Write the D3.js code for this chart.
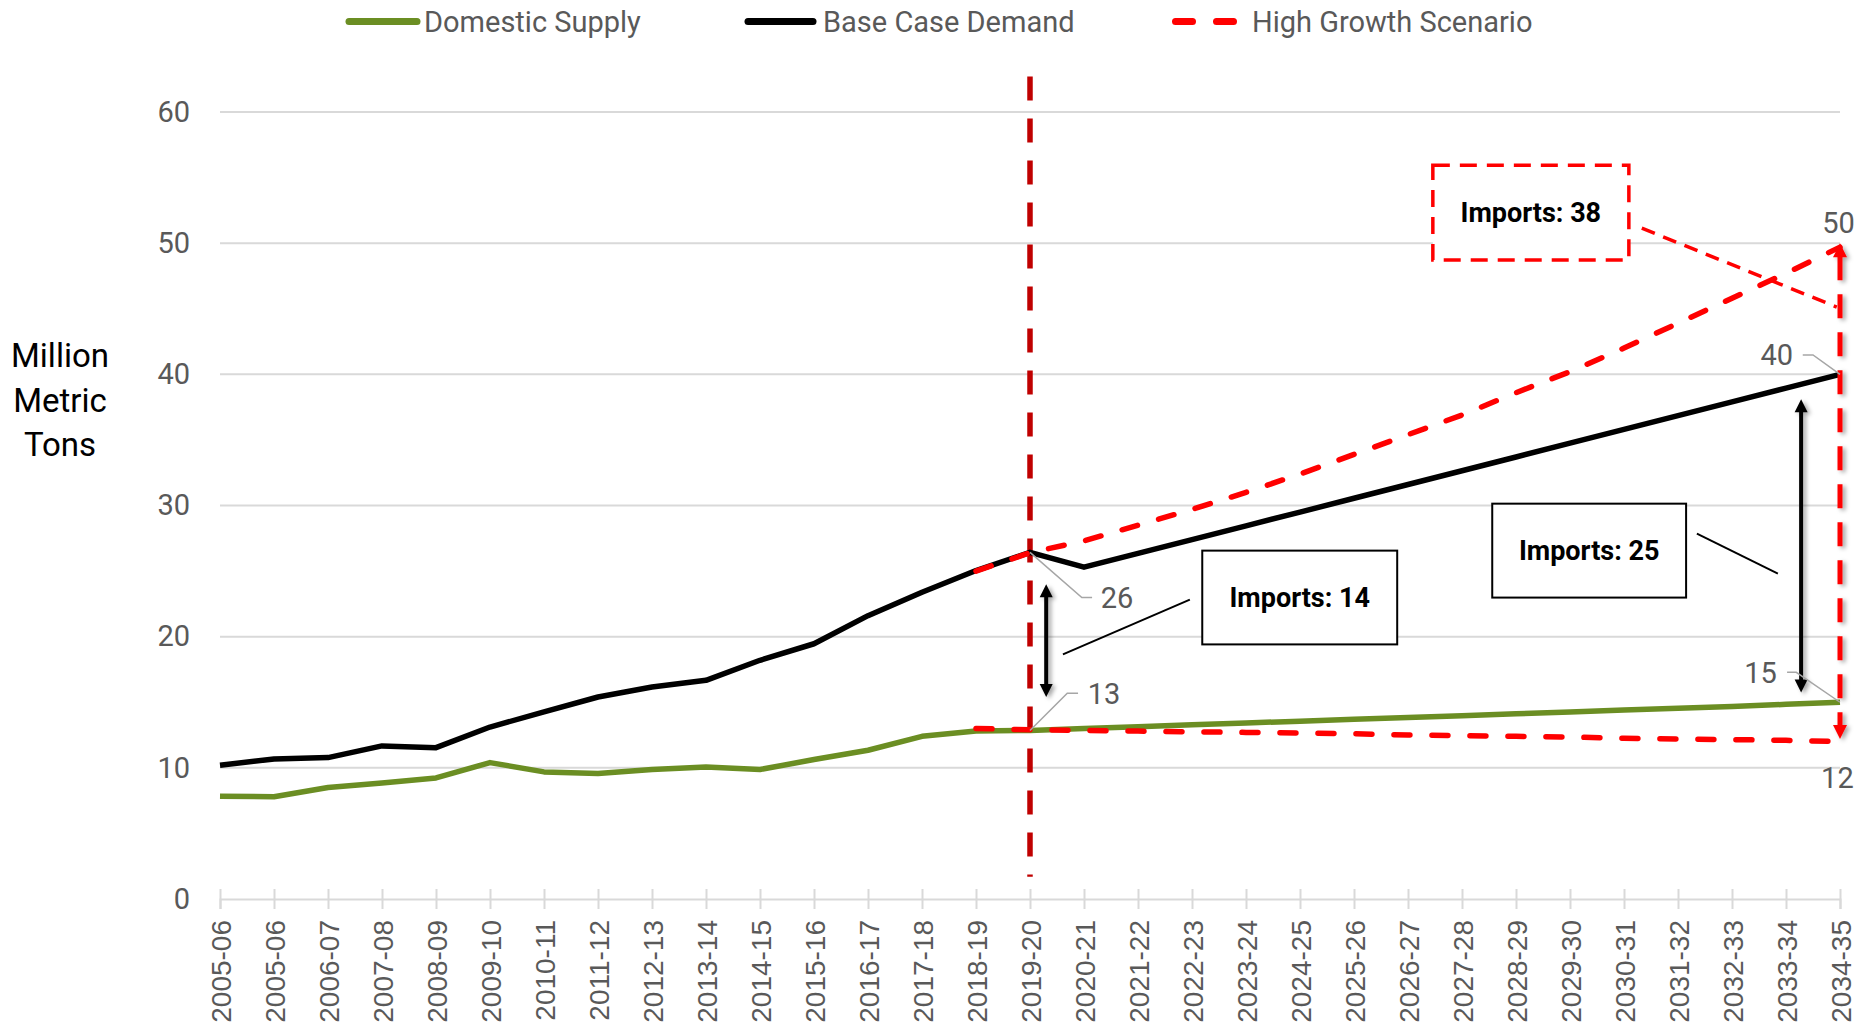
<!DOCTYPE html>
<html>
<head>
<meta charset="utf-8">
<script src="https://cdn.jsdelivr.net/npm/d3@7/dist/d3.min.js"></script>
<style>
  body { margin: 0; background: #fff; }
  text { font-family: Roboto, "Liberation Sans", sans-serif; }
</style>
</head>
<body>
<svg id="chart" width="1864" height="1032"></svg>
<script>
const categories = ['2005-06', '2005-06', '2006-07', '2007-08', '2008-09', '2009-10', '2010-11',
    '2011-12', '2012-13', '2013-14', '2014-15', '2015-16', '2016-17', '2017-18', '2018-19',
    '2019-20', '2020-21', '2021-22', '2022-23', '2023-24', '2024-25', '2025-26', '2026-27',
    '2027-28', '2028-29', '2029-30', '2030-31', '2031-32', '2032-33', '2033-34', '2034-35']

const domesticSupply = [7.84, 7.79, 8.5, 8.85, 9.23, 10.4, 9.69, 9.56, 9.87, 10.07, 9.87, 10.63,
    11.34, 12.4, 12.8, 12.85, 13.0, 13.14, 13.28, 13.42, 13.56, 13.7, 13.84, 13.98, 14.12, 14.26,
    14.4, 14.54, 14.68, 14.84, 15.0]

const baseCaseDemand = [10.2, 10.68, 10.78, 11.67, 11.54, 13.11, 14.26, 15.4, 16.16, 16.67, 18.2,
    19.46, 21.6, 23.39, 25.04, 26.43, 25.3, 26.35, 27.4, 28.45, 29.5, 30.55, 31.6, 32.65, 33.7,
    34.75, 35.8, 36.85, 37.9, 38.95, 40.0]

// high growth scenario starts in 2018-19 (index 14)
const highGrowthDemand = [null, null, null, null, null, null, null, null, null, null, null, null,
    null, null, 25.0, 26.4, 27.3, 28.5, 29.7, 31.0, 32.4, 33.9, 35.4, 36.9, 38.6, 40.2, 42.0,
    43.9, 45.8, 47.7, 49.7]
const highGrowthSupply = [null, null, null, null, null, null, null, null, null, null, null, null,
    null, null, 13.0, 12.9, 12.85, 12.8, 12.75, 12.7, 12.65, 12.6, 12.5, 12.45, 12.4, 12.35,
    12.25, 12.2, 12.15, 12.1, 12.0]

const yTicks = [0, 10, 20, 30, 40, 50, 60]
const seriesNames = ['Domestic Supply', 'Base Case Demand', 'High Growth Scenario']
const yTitle = ['Million', 'Metric', 'Tons']

// annotations, in (category index, value) units
const importLabels = ['Imports: 14', 'Imports: 25', 'Imports: 38']
const importBoxes = [[18.19, 26.56, 21.8, 19.41], [23.56, 30.14, 27.15, 22.98], [22.46, 55.94, 26.09, 48.71]]
const importLinks = [[15.61, 18.65, 17.96, 22.83], [27.35, 27.85, 28.85, 24.81], [26.33, 51.14, 29.94, 45.13]]
const importArrows = [[15.3, 24.0, 15.4], [29.28, 38.1, 15.75], [30, 50.0, 12.2]]

const pointLabels = ['26', '13', '15', '40', '50', '12']
const pointLabelPos = [[16.31, 22.98], [16.07, 15.68], [28.83, 17.28], [29.13, 41.48], [29.67, 51.6], [29.65, 9.25]]
const pointLabelAnchor = ['start', 'start', 'end', 'end', 'start', 'start']
// leader lines: from point, elbow, end
const leaders = [
    [[15, 26.43], [15.96, 22.98], [16.15, 22.98]],
    [[15, 12.85], [15.69, 15.68], [15.89, 15.68]],
    [[30, 15.0], [29.19, 17.28], [29.02, 17.28]],
    [[30, 40.0], [29.5, 41.48], [29.31, 41.48]]
]

const svg = d3.select('#chart')
const plotLeft = 220, plotRight = 1840, plotTop = 112, plotBottom = 899

const x = d3.scaleLinear().domain([0, categories.length - 1]).range([plotLeft, plotRight])
const y = d3.scaleLinear().domain([0, 60]).range([plotBottom, plotTop])

const defs = svg.append('defs')
defs.append('filter')
    .attr('id', 'shadow')
    .attr('x', '-100%').attr('y', '-5%').attr('width', '300%').attr('height', '110%')
    .append('feDropShadow')
    .attr('dx', 3).attr('dy', 2).attr('stdDeviation', 2)
    .attr('flood-color', '#000').attr('flood-opacity', 0.35)

// gridlines
svg.append('g')
    .selectAll('line')
    .data(yTicks.slice(1))
    .join('line')
    .attr('x1', plotLeft).attr('x2', plotRight)
    .attr('y1', d => y(d)).attr('y2', d => y(d))
    .attr('stroke', '#d9d9d9').attr('stroke-width', 2)

// left axis (y)
const yAxis = svg.append('g')
    .attr('transform', `translate(${plotLeft},0)`)
    .call(d3.axisLeft(y).tickValues(yTicks).tickSize(0).tickPadding(30))
yAxis.select('.domain').remove()
yAxis.selectAll('text')
    .attr('fill', '#595959')
    .style('font-size', '29px')
    .style('font-family', 'Roboto, sans-serif')

// bottom axis (x)
const xAxis = svg.append('g')
    .attr('transform', `translate(0,${plotBottom})`)
    .call(d3.axisBottom(x).tickValues(d3.range(categories.length)).tickFormat(i => categories[i]).tickSize(10))
xAxis.select('.domain').attr('stroke', '#d9d9d9').attr('stroke-width', 2)
xAxis.selectAll('.tick line').attr('stroke', '#d9d9d9').attr('stroke-width', 2).attr('y1', -10).attr('y2', 10)
xAxis.selectAll('.tick text')
    .attr('transform', 'rotate(-90)')
    .attr('x', -21).attr('y', 0).attr('dy', '0.36em')
    .attr('text-anchor', 'end')
    .attr('fill', '#595959')
    .style('font-size', '28px')
    .style('font-family', '"Liberation Sans", Arial, sans-serif')

// y title
svg.append('text')
    .attr('text-anchor', 'middle')
    .attr('fill', '#000')
    .style('font-size', '33px')
    .selectAll('tspan')
    .data(yTitle)
    .join('tspan')
    .attr('x', 60)
    .attr('y', (d, i) => 367 + i * 44.5)
    .text(d => d)

const line = d3.line()
    .defined(d => d !== null)
    .x((d, i) => x(i))
    .y(d => y(d))

// vertical marker at 2019-20
svg.append('line')
    .attr('x1', x(15)).attr('x2', x(15))
    .attr('y1', y(62.7)).attr('y2', y(1.7))
    .attr('stroke', '#c00000').attr('stroke-width', 5.5)
    .attr('stroke-dasharray', '24, 18')

svg.append('path')
    .datum(domesticSupply)
    .attr('fill', 'none').attr('stroke', '#6b8e23').attr('stroke-width', 5.5)
    .attr('stroke-linejoin', 'round')
    .attr('d', line)

svg.append('path')
    .datum(baseCaseDemand)
    .attr('fill', 'none').attr('stroke', '#000').attr('stroke-width', 5.5)
    .attr('stroke-linejoin', 'round')
    .attr('d', line)

;[highGrowthDemand, highGrowthSupply].forEach(series => {
    svg.append('path')
        .datum(series)
        .attr('fill', 'none').attr('stroke', '#ff0000').attr('stroke-width', 5.5)
        .attr('stroke-linecap', 'round')
        .attr('stroke-dasharray', '16, 22')
        .attr('d', line)
})

// import arrows (double headed)
const arrowStyles = [
    { color: '#000', width: 4, dash: null, head: 13 },
    { color: '#000', width: 4, dash: null, head: 13 },
    { color: '#ff0000', width: 5, dash: '24, 14', head: 14 }
]
importArrows.forEach((a, k) => {
    const st = arrowStyles[k]
    const g = svg.append('g').attr('filter', 'url(#shadow)')
    const ax = x(a[0]), yTop = y(a[1]), yBot = y(a[2])
    g.append('line')
        .attr('x1', ax).attr('x2', ax)
        .attr('y1', yTop + st.head - 1).attr('y2', yBot - st.head + 1)
        .attr('stroke', st.color).attr('stroke-width', st.width)
        .attr('stroke-dasharray', st.dash)
    const h = st.head, w = st.head / 2
    g.append('path')
        .attr('d', `M${ax},${yTop}L${ax - w},${yTop + h}L${ax + w},${yTop + h}Z`)
        .attr('fill', st.color)
    g.append('path')
        .attr('d', `M${ax},${yBot}L${ax - w},${yBot - h}L${ax + w},${yBot - h}Z`)
        .attr('fill', st.color)
})

// callout connectors
importLinks.forEach((l, k) => {
    svg.append('line')
        .attr('x1', x(l[0])).attr('y1', y(l[1]))
        .attr('x2', x(l[2])).attr('y2', y(l[3]))
        .attr('stroke', k === 2 ? '#ff0000' : '#000')
        .attr('stroke-width', k === 2 ? 3.5 : 2)
        .attr('stroke-dasharray', k === 2 ? '14, 9' : null)
})

// callout boxes
importBoxes.forEach((b, k) => {
    const x0 = x(b[0]), y0 = y(b[1]), x1 = x(b[2]), y1 = y(b[3])
    svg.append('rect')
        .attr('x', x0).attr('y', y0)
        .attr('width', x1 - x0).attr('height', y1 - y0)
        .attr('fill', '#fff')
        .attr('stroke', k === 2 ? '#ff0000' : '#000')
        .attr('stroke-width', k === 2 ? 3.5 : 2)
        .attr('stroke-dasharray', k === 2 ? '17, 10' : null)
    svg.append('text')
        .attr('x', (x0 + x1) / 2).attr('y', (y0 + y1) / 2)
        .attr('dy', '0.36em')
        .attr('text-anchor', 'middle')
        .attr('fill', '#000')
        .style('font-size', '27px').style('font-weight', 'bold')
        .text(importLabels[k])
})

// leader lines for data labels
leaders.forEach(pts => {
    svg.append('path')
        .attr('d', d3.line().x(p => x(p[0])).y(p => y(p[1]))(pts))
        .attr('fill', 'none').attr('stroke', '#a6a6a6').attr('stroke-width', 1.5)
})

svg.append('g')
    .selectAll('text')
    .data(pointLabels)
    .join('text')
    .attr('x', (d, i) => x(pointLabelPos[i][0]))
    .attr('y', (d, i) => y(pointLabelPos[i][1]))
    .attr('dy', '0.36em')
    .attr('text-anchor', (d, i) => pointLabelAnchor[i])
    .attr('fill', '#595959')
    .style('font-size', '29px')
    .text(d => d)

// legend
const legendLine = [[346, 420], [745, 816], [1175.5, 1233.5]]
const legendText = [424, 823, 1252]
const legendColor = ['#6b8e23', '#000', '#ff0000']
const legend = svg.append('g')
seriesNames.forEach((name, k) => {
    legend.append('line')
        .attr('x1', legendLine[k][0] + (k === 2 ? 0 : 3)).attr('x2', legendLine[k][1] - (k === 2 ? 0 : 3))
        .attr('y1', 21.5).attr('y2', 21.5)
        .attr('stroke', legendColor[k]).attr('stroke-width', 7)
        .attr('stroke-linecap', 'round')
        .attr('stroke-dasharray', k === 2 ? '17, 24' : null)
    legend.append('text')
        .attr('x', legendText[k]).attr('y', 32)
        .attr('fill', '#595959')
        .style('font-size', '29px')
        .text(name)
})
</script>
</body>
</html>
